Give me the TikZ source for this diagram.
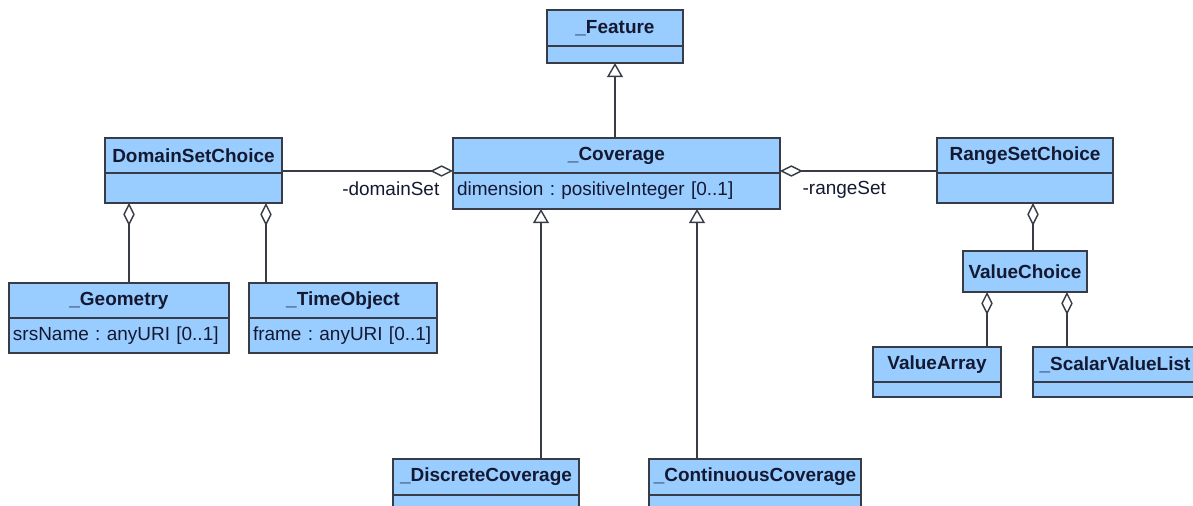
\documentclass[tikz,border=0pt]{standalone}
\usepackage{fontspec}
\setmainfont{Liberation Sans}
\usetikzlibrary{arrows.meta}

\definecolor{classfill}{RGB}{153,204,255}
\definecolor{classline}{RGB}{55,60,70}
\definecolor{classtext}{RGB}{20,25,50}

\tikzset{
  every node/.style={font=\fontsize{10.8}{13}\selectfont\frenchspacing, text=classtext},
  head/.style={draw=classline, fill=classfill, font=\fontsize{10.8}{13}\selectfont\bfseries,
    inner sep=0pt, outer sep=0pt, anchor=north west},
  body/.style={draw=classline, fill=classfill, inner xsep=0.08cm, inner ysep=0pt,
    outer sep=0pt, align=left, anchor=north west},
  role/.style={inner sep=0pt},
  agg/.style={{Diamond[open,length=13pt,width=6.5pt]}-},
}

\begin{document}
\begin{tikzpicture}[x=0.02cm,y=-0.02cm,line width=0.8pt,draw=classline,
    >={Triangle[open,length=8pt,width=9pt]}]
  \useasboundingbox (0,0) rectangle (1193,506);
  \clip (0,0) rectangle (1193,506);
  % clases
  \node[head, minimum width=2.72cm, minimum height=0.72cm] (featurehead) at (547,10) {\_Feature};
  \node[body, text width=2.56cm, minimum height=0.34cm] (featurebody) at (featurehead.south west) {};
  \node[head, minimum width=6.54cm, minimum height=0.70cm] (coveragehead) at (453,138) {\_Coverage};
  \node[body, text width=6.38cm, minimum height=0.72cm] (coveragebody) at (coveragehead.south west) {dimension : positiveInteger [0..1]};
  \node[head, minimum width=3.54cm, minimum height=0.70cm] (domainhead) at (105,138) {DomainSetChoice};
  \node[body, text width=3.38cm, minimum height=0.60cm] (domainbody) at (domainhead.south west) {};
  \node[head, minimum width=3.52cm, minimum height=0.70cm] (rangehead) at (937,138) {RangeSetChoice};
  \node[body, text width=3.36cm, minimum height=0.60cm] (rangebody) at (rangehead.south west) {};
  \node[head, minimum width=4.40cm, minimum height=0.70cm] (geometryhead) at (9,283) {\_Geometry};
  \node[body, text width=4.24cm, minimum height=0.70cm] (geometrybody) at (geometryhead.south west) {srsName : anyURI [0..1]};
  \node[head, minimum width=3.76cm, minimum height=0.70cm] (timehead) at (249,283) {\_TimeObject};
  \node[body, text width=3.60cm, minimum height=0.70cm] (timebody) at (timehead.south west) {frame : anyURI [0..1]};
  \node[head, minimum width=2.48cm, minimum height=0.82cm] (valuechoice) at (963,251) {ValueChoice};
  \node[head, minimum width=2.56cm, minimum height=0.70cm] (arrayhead) at (873,347) {ValueArray};
  \node[body, text width=2.40cm, minimum height=0.30cm] (arraybody) at (arrayhead.south west) {};
  \node[head, minimum width=3.28cm, minimum height=0.70cm] (scalarhead) at (1033,347) {\_ScalarValueList};
  \node[body, text width=3.12cm, minimum height=0.30cm] (scalarbody) at (scalarhead.south west) {};
  \node[head, minimum width=3.72cm, minimum height=0.72cm] (discretehead) at (393,459) {\_DiscreteCoverage};
  \node[body, text width=3.56cm, minimum height=0.60cm] (discretebody) at (discretehead.south west) {};
  \node[head, minimum width=4.24cm, minimum height=0.72cm] (continuoushead) at (649,459) {\_ContinuousCoverage};
  \node[body, text width=4.08cm, minimum height=0.60cm] (continuousbody) at (continuoushead.south west) {};

  % herencia
  \draw[->] (coveragehead.north -| featurebody.south) -- (featurebody.south);
  \coordinate (discretetop) at ([xshift=2.96cm]discretehead.north west);
  \coordinate (continuoustop) at ([xshift=0.96cm]continuoushead.north west);
  \draw[->] (discretetop) -- (discretetop |- coveragebody.south);
  \draw[->] (continuoustop) -- (continuoustop |- coveragebody.south);

  % agregaciones
  \draw[agg] ([yshift=0.04cm]coveragehead.south west) -- ([yshift=0.04cm]domainhead.south east);
  \draw[agg] ([yshift=0.04cm]coveragehead.south east) -- ([yshift=0.04cm]rangehead.south west);
  \node[role, anchor=north east] (domainrole) at ([xshift=-0.26cm,yshift=-0.16cm]coveragehead.south west) {-domainSet};
  \node[role, anchor=north west] (rangerole) at ([xshift=0.44cm,yshift=-0.16cm]coveragehead.south east) {-rangeSet};
  \coordinate (geometryleg) at ([xshift=0.48cm]domainbody.south west);
  \coordinate (timeleg) at ([xshift=-0.32cm]domainbody.south east);
  \coordinate (valueleg) at ([xshift=1.92cm]rangebody.south west);
  \coordinate (arrayleg) at ([xshift=0.48cm]valuechoice.south west);
  \coordinate (scalarleg) at ([xshift=2.08cm]valuechoice.south west);
  \draw[agg] (geometryleg) -- (geometryleg |- geometryhead.north);
  \draw[agg] (timeleg) -- (timeleg |- timehead.north);
  \draw[agg] (valueleg) -- (valueleg |- valuechoice.north);
  \draw[agg] (arrayleg) -- (arrayleg |- arrayhead.north);
  \draw[agg] (scalarleg) -- (scalarleg |- scalarhead.north);
\end{tikzpicture}
\end{document}
